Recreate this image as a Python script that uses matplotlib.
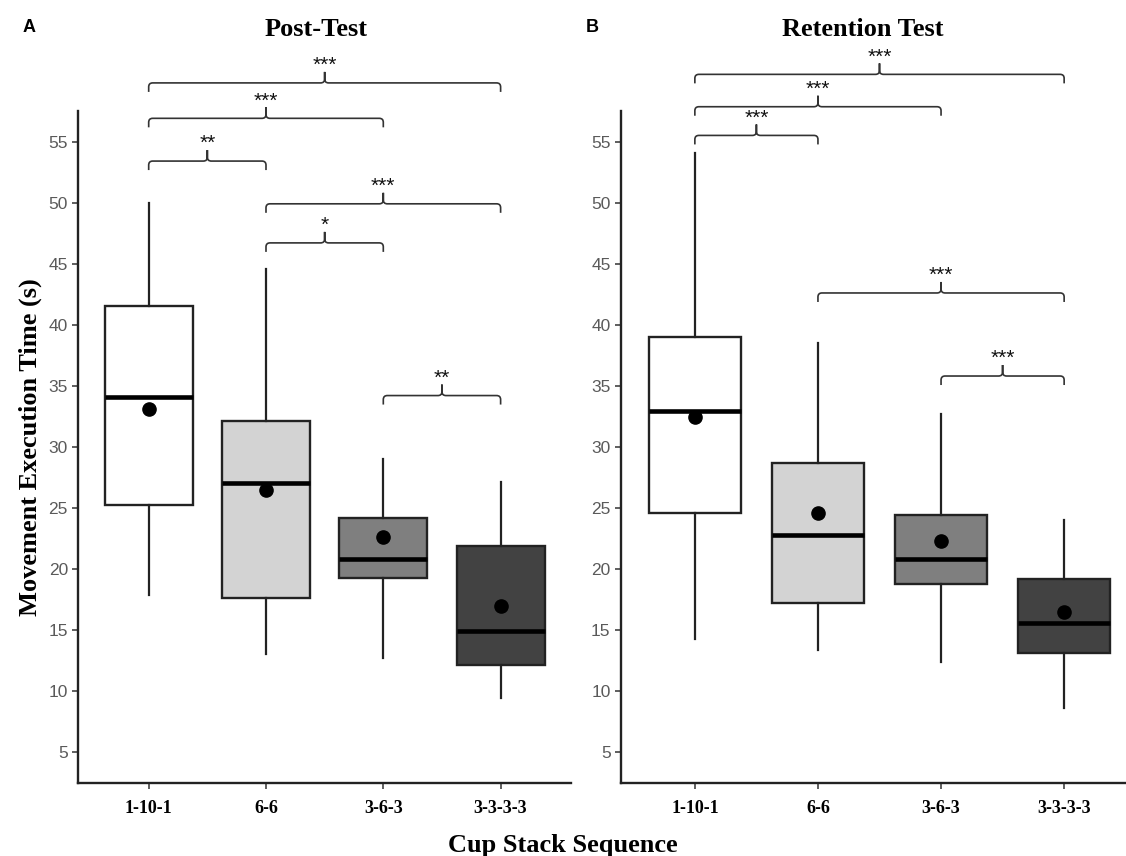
import matplotlib
matplotlib.use("Agg")
import matplotlib.pyplot as plt
from matplotlib.path import Path
from matplotlib.patches import PathPatch

# ── Data ─────────────────────────────────────────────────────────────────────
groups = ["1-10-1", "6-6", "3-6-3", "3-3-3-3"]
fills = ["#FFFFFF", "#D3D3D3", "#7F7F7F", "#424242"]

post_whislo = [17.9, 13.0, 12.7, 9.4]
post_q1 = [25.2, 17.6, 19.3, 12.1]
post_med = [34.05, 27.0, 20.8, 14.95]
post_q3 = [41.5, 32.15, 24.2, 21.9]
post_whishi = [50.0, 44.6, 29.0, 27.1]
post_mean = [33.1, 26.5, 22.6, 17.0]

ret_whislo = [14.25, 13.4, 12.4, 8.65]
ret_q1 = [24.6, 17.2, 18.8, 13.1]
ret_med = [32.9, 22.8, 20.8, 15.6]
ret_q3 = [39.0, 28.7, 24.45, 19.2]
ret_whishi = [54.05, 38.5, 32.7, 24.0]
ret_mean = [32.45, 24.55, 22.3, 16.45]

# significance brackets: (group i, group j), label, bracket height
post_pairs = [(1, 4), (1, 3), (1, 2), (2, 4), (2, 3), (3, 4)]
post_sig = ["***", "***", "**", "***", "*", "**"]
post_sig_y = [59.8, 56.9, 53.4, 49.9, 46.7, 34.2]

ret_pairs = [(1, 4), (1, 3), (1, 2), (2, 4), (3, 4)]
ret_sig = ["***", "***", "***", "***", "***"]
ret_sig_y = [60.5, 57.85, 55.5, 42.6, 35.8]

W, H = 1126, 856
fig = plt.figure(figsize=(W / 100, H / 100), dpi=100)

SERIF = "Liberation Serif"
SANS = "Liberation Sans"


def panel_axes(left_px, right_px):
    top_px, bottom_px = 111, 782.7
    return fig.add_axes([left_px / W, (H - bottom_px) / H,
                         (right_px - left_px) / W, (bottom_px - top_px) / H])


def brace(ax, x1, x2, y, label):
    # build the bracket in pixel space, then map back to data coords
    to_px = ax.transData
    (p1x, py), = to_px.transform([(x1, y)])
    (p2x, _), = to_px.transform([(x2, y)])
    pm = (p1x + p2x) / 2
    d, t, r = 9, 11, 4
    verts = [(p1x, py - d), (p1x, py - r), (p1x, py), (p1x + r, py),
             (pm - r, py), (pm, py), (pm, py + r), (pm, py + t),
             (pm, py + r), (pm, py), (pm + r, py),
             (p2x - r, py), (p2x, py), (p2x, py - r), (p2x, py - d)]
    codes = [Path.MOVETO, Path.LINETO, Path.CURVE3, Path.CURVE3,
             Path.LINETO, Path.CURVE3, Path.CURVE3, Path.LINETO,
             Path.LINETO, Path.CURVE3, Path.CURVE3,
             Path.LINETO, Path.CURVE3, Path.CURVE3, Path.LINETO]
    verts = to_px.inverted().transform(verts)
    ax.add_patch(PathPatch(Path(verts, codes), fill=False, lw=1.2,
                           edgecolor="#333333", clip_on=False, zorder=4))
    ax.annotate(label, ((x1 + x2) / 2, y), xytext=(0, 8.5),
                textcoords="offset points", ha="center", va="baseline",
                fontsize=15, family=SANS, color="#111111",
                annotation_clip=False)


def draw_panel(ax, whislo, q1, med, q3, whishi, mean, pairs, sig, sig_y):
    stats = []
    for i in range(len(groups)):
        stats.append(dict(whislo=whislo[i], q1=q1[i], med=med[i], q3=q3[i],
                          whishi=whishi[i], fliers=[]))
    bp = ax.bxp(stats, positions=range(1, 5), widths=0.75, patch_artist=True,
                showcaps=False, showfliers=False,
                boxprops=dict(linewidth=1.7, edgecolor="#222222"),
                whiskerprops=dict(linewidth=1.6, color="#222222"),
                medianprops=dict(linewidth=3.3, color="black",
                                 solid_capstyle="butt"))
    for box, c in zip(bp["boxes"], fills):
        box.set_facecolor(c)
    ax.plot(range(1, 5), mean, "o", color="black", markersize=9.5, zorder=5)

    ax.set_xlim(0.4, 4.6)
    ax.set_ylim(2.5, 57.5)
    ax.set_yticks(range(5, 60, 5))
    ax.set_xticks(range(1, 5))
    ax.set_xticklabels(groups, family=SERIF, fontweight="bold", fontsize=13)
    ax.tick_params(axis="y", labelsize=12.5, labelcolor="#5A5A5A",
                   color="#333333", length=4.5, width=1.1, pad=3)
    ax.tick_params(axis="x", color="#333333", length=4.5, width=1.1, pad=8)
    for lab in ax.get_yticklabels():
        lab.set_family(SANS)
    for s in ["top", "right"]:
        ax.spines[s].set_visible(False)
    for s in ["left", "bottom"]:
        ax.spines[s].set_linewidth(1.7)
        ax.spines[s].set_color("#222222")

    for (a, b), lab, y in zip(pairs, sig, sig_y):
        brace(ax, a, b, y, lab)


ax1 = panel_axes(78.3, 571)
ax2 = panel_axes(621, 1138)
draw_panel(ax1, post_whislo, post_q1, post_med, post_q3, post_whishi,
           post_mean, post_pairs, post_sig, post_sig_y)
draw_panel(ax2, ret_whislo, ret_q1, ret_med, ret_q3, ret_whishi,
           ret_mean, ret_pairs, ret_sig, ret_sig_y)

# titles, panel letters and shared axis labels
fig.text(316 / W, 1 - 29 / H, "Post-Test", ha="center", va="center",
         family=SERIF, fontweight="bold", fontsize=19)
fig.text(863 / W, 1 - 29 / H, "Retention Test", ha="center", va="center",
         family=SERIF, fontweight="bold", fontsize=19)
fig.text(29 / W, 1 - 28 / H, "A", ha="center", va="center",
         family=SANS, fontweight="bold", fontsize=13)
fig.text(592 / W, 1 - 28 / H, "B", ha="center", va="center",
         family=SANS, fontweight="bold", fontsize=13)
fig.text(30 / W, 1 - 447 / H, "Movement Execution Time (s)", rotation=90,
         ha="center", va="center", family=SERIF, fontweight="bold",
         fontsize=19)
fig.text(563 / W, 4 / H, "Cup Stack Sequence", ha="center", va="baseline",
         family=SERIF, fontweight="bold", fontsize=19)

fig.savefig("out.png", dpi=100)
